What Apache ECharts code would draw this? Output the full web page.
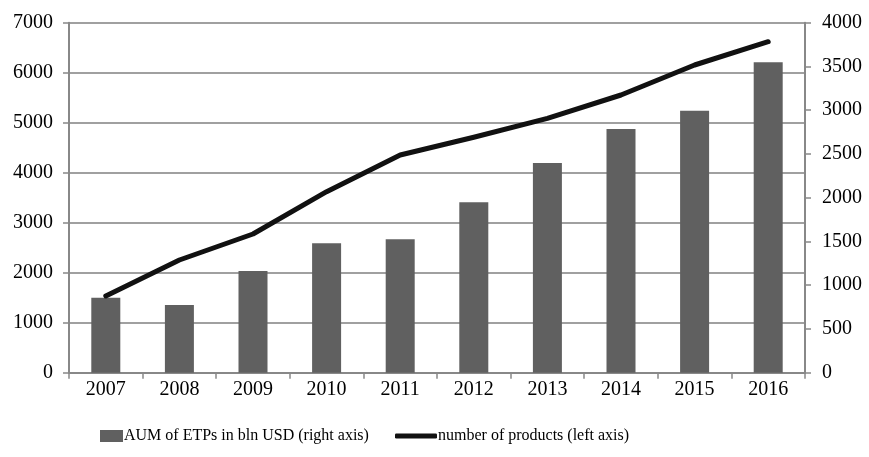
<!DOCTYPE html>
<html>
<head>
<meta charset="utf-8">
<script src="https://cdn.jsdelivr.net/npm/echarts@6/dist/echarts.min.js"></script>
<style>html,body{margin:0;padding:0;background:#fff}#c{width:869px;height:457px}</style>
</head>
<body>
<div id="c"></div>
<script>
const years = ['2007','2008','2009','2010','2011','2012','2013','2014','2015','2016'];
const aumBlnUsd = [857, 774, 1162, 1479, 1524, 1947, 2397, 2785, 2994, 3547];
const numProducts = [1534, 2254, 2774, 3620, 4354, 4708, 5087, 5554, 6154, 6620];
const leftTicks = [0, 7000, 1000];
const rightTicks = [0, 4000, 500];
const barName = 'AUM of ETPs in bln USD (right axis)';
const lineName = 'number of products (left axis)';

const font = 'Liberation Serif';
const fs = 20;
const lfs = 16;
const plain = v => String(v);
const chart = echarts.init(document.getElementById('c'), null, {renderer: 'canvas'});
chart.setOption({
  animation: false,
  backgroundColor: '#fff',
  textStyle: {fontFamily: font},
  grid: {left: 69, right: 64, top: 22.7, bottom: 84.3, containLabel: false},
  legend: [
    {data: [barName], left: 100, top: 428, itemWidth: 23, itemHeight: 12, icon: 'rect',
     textStyle: {fontFamily: font, fontSize: lfs, color: '#000', padding: [0, 0, 0, -4]}, padding: 0},
    {data: [lineName], left: 395, top: 428, itemWidth: 42, itemHeight: 5, icon: 'roundRect',
     textStyle: {fontFamily: font, fontSize: lfs, color: '#000', padding: [0, 0, 0, -4]}, padding: 0}
  ],
  xAxis: {
    type: 'category', data: years, boundaryGap: true,
    axisLine: {lineStyle: {color: '#888', width: 2}},
    axisTick: {show: true, length: 6, lineStyle: {color: '#888', width: 1.5}},
    axisLabel: {color: '#000', fontFamily: font, fontSize: fs, margin: 7},
    splitLine: {show: false}
  },
  yAxis: [
    {type: 'value', position: 'left', min: leftTicks[0], max: leftTicks[1], interval: leftTicks[2],
     axisLine: {show: true, lineStyle: {color: '#888', width: 2}},
     axisTick: {show: true, length: 6, lineStyle: {color: '#888', width: 1.5}},
     axisLabel: {color: '#000', fontFamily: font, fontSize: fs, margin: 16, formatter: plain},
     splitLine: {show: true, lineStyle: {color: '#a0a0a0', width: 2}}},
    {type: 'value', position: 'right', min: rightTicks[0], max: rightTicks[1], interval: rightTicks[2],
     axisLine: {show: true, lineStyle: {color: '#888', width: 2}},
     axisTick: {show: true, length: 6, lineStyle: {color: '#888', width: 1.5}},
     axisLabel: {color: '#000', fontFamily: font, fontSize: fs, margin: 17, formatter: plain},
     splitLine: {show: false}}
  ],
  series: [
    {name: barName, type: 'bar', yAxisIndex: 1, data: aumBlnUsd, barWidth: 29,
     itemStyle: {color: '#606060'}},
    {name: lineName, type: 'line', yAxisIndex: 0, data: numProducts, showSymbol: false, symbol: 'none',
     lineStyle: {color: '#111', width: 5, cap: 'round', join: 'round'},
     itemStyle: {color: '#111'}}
  ]
});
</script>
</body>
</html>
